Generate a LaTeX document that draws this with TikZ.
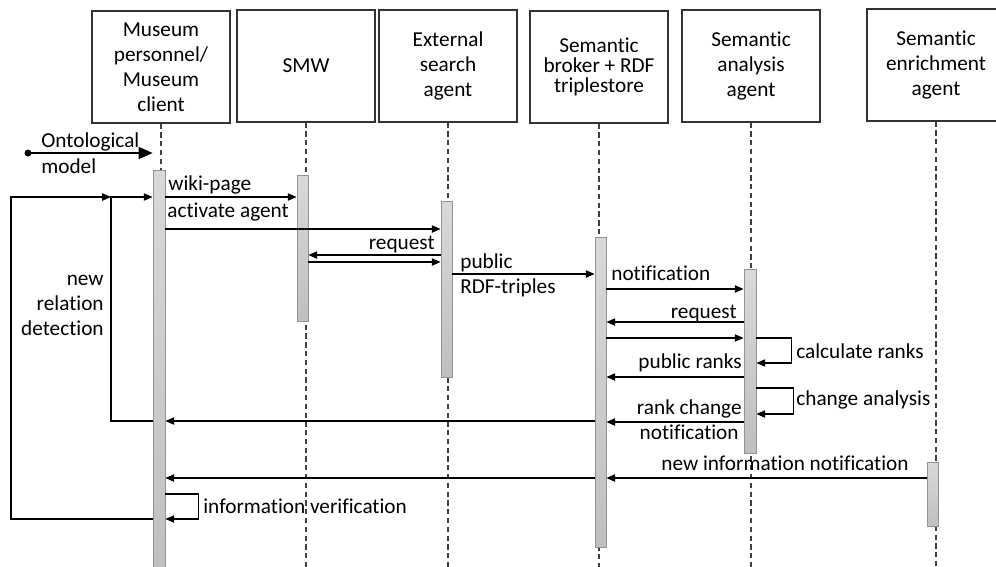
\documentclass[tikz,border=0pt]{standalone}
\usepackage{fontspec}
\setmainfont{Carlito}[Ligatures={NoCommon}]
\usetikzlibrary{arrows.meta,fit}

\begin{document}
\begin{tikzpicture}[
        x=0.02cm, y=-0.02cm,
        font=\fontsize{12.1}{14.2}\selectfont,
        actor/.style={draw=black!80, line width=0.7pt, minimum width=2.76cm,
            minimum height=2.24cm, align=center, inner sep=2pt},
        life/.style={densely dashed, black!75, line width=0.6pt},
        bar/.style={draw=gray!85, top color=gray!30, bottom color=gray!50,
            line width=0.5pt, inner sep=0pt},
        msg/.style={-{Triangle[length=5pt,width=4.2pt]}, line width=0.6pt},
        bigmsg/.style={-{Triangle[length=8pt,width=7pt]}, line width=0.7pt},
        lbl/.style={inner sep=0pt, text height=8pt, text depth=2.5pt},
        ]
    \useasboundingbox (0,0) rectangle (996,566);

    % lifeline heads
    \node (museum) [actor] at (161,67) {Museum\\personnel/\\Museum\\client};
    \node (smw) [actor] at (306,66) {SMW};
    \node (search) [actor] at (448,66) {External\\search\\agent};
    \node (broker) [actor, font=\fontsize{12.1}{11.3}\selectfont] at (599,67)
        {Semantic\\broker + RDF\\triplestore};
    \node (analysis) [actor] at (751,66) {Semantic\\analysis\\agent};
    \node (enrich) [actor] at (936,65) {Semantic\\enrichment\\agent};

    \coordinate (bottom) at (0,570);
    \foreach \n in {museum,smw,search,broker,analysis,enrich}
        \draw[life] (\n.south) -- (\n.south |- bottom);

    % activation bars
    \node (b1) [bar, fit={(153,170) (165,572)}] {};
    \node (b2) [bar, fit={(297,175) (308,321)}] {};
    \node (b3) [bar, fit={(441,201) (452,377)}] {};
    \node (b4) [bar, fit={(595,237) (606,547)}] {};
    \node (b5) [bar, fit={(744,269) (756,453)}] {};
    \node (b6) [bar, fit={(927,462) (938,526)}] {};

    % ontological model
    \coordinate (onto) at (28,153);
    \fill (onto) circle (3.5);
    \draw[bigmsg] (onto) -- (b1.west |- onto);
    \node[lbl, anchor=west] at (41,143) {Ontological};
    \node[lbl, anchor=west] at (41,169) {model};

    % messages
    \draw[msg] (b1.east |- 0,197) -- (b2.west |- 0,197);
    \node[lbl, anchor=west] at (168,186) {wiki-page};
    \draw[msg] (b1.east |- 0,229) -- (b3.west |- 0,229);
    \node[lbl, anchor=west] at (167,213) {activate agent};
    \draw[msg] (b3.west |- 0,255) -- (b2.east |- 0,255);
    \node[lbl, anchor=east] at (435,245) {request};
    \draw[msg] (b2.east |- 0,262) -- (b3.west |- 0,262);
    \draw[msg] (b3.east |- 0,274) -- (b4.west |- 0,274);
    \node[lbl, anchor=west] at (460,264) {public};
    \node[lbl, anchor=west] at (460,289) {RDF-triples};
    \draw[msg] (b4.east |- 0,289) -- (b5.west |- 0,289);
    \node[lbl, anchor=west] at (611,276) {notification};
    \draw[msg] (b5.west |- 0,322) -- (b4.east |- 0,322);
    \node[lbl, anchor=east] at (737,314) {request};
    \draw[msg] (b4.east |- 0,338) -- (b5.west |- 0,338);
    \draw[msg] (b5.east |- 0,338) -- ++(35,0) |- (b5.east |- 0,363);
    \node[lbl, anchor=west] at (796,354) {calculate ranks};
    \draw[msg] (b5.west |- 0,377) -- (b4.east |- 0,377);
    \node[lbl, anchor=east] at (742,364) {public ranks};
    \draw[msg] (b5.east |- 0,388) -- ++(37,0) |- (b5.east |- 0,414);
    \node[lbl, anchor=west] at (796,401) {change analysis};
    \draw[msg] (b5.west |- 0,422) -- (b4.east |- 0,422);
    \node[lbl, anchor=east] at (742,410) {rank change};
    \node[lbl, anchor=east] at (739,435) {notification};
    \draw[msg] (b4.west |- 0,421) -- (b1.east |- 0,421);
    \draw[msg] (b6.west |- 0,478) -- (b4.east |- 0,478);
    \node[lbl, anchor=west] at (661,466) {new information notification};
    \draw[msg] (b4.west |- 0,478) -- (b1.east |- 0,478);
    \draw[msg] (b1.east |- 0,494) -- ++(33,0) |- (b1.east |- 0,519);
    \node[lbl, anchor=west] at (203,509) {information verification};

    % feedback loops
    \coordinate (inner) at (111,197);
    \coordinate (outer) at (11,519);
    \draw[msg] (b1.west |- 0,421) -| (inner) -- (b1.west |- inner);
    \draw[msg] (b1.west |- 0,519) -- (outer) |- (inner);
    \node[lbl, anchor=east] at (104,281) {new};
    \node[lbl, anchor=east] at (104,306) {relation};
    \node[lbl, anchor=east] at (104,331) {detection};
\end{tikzpicture}
\end{document}
